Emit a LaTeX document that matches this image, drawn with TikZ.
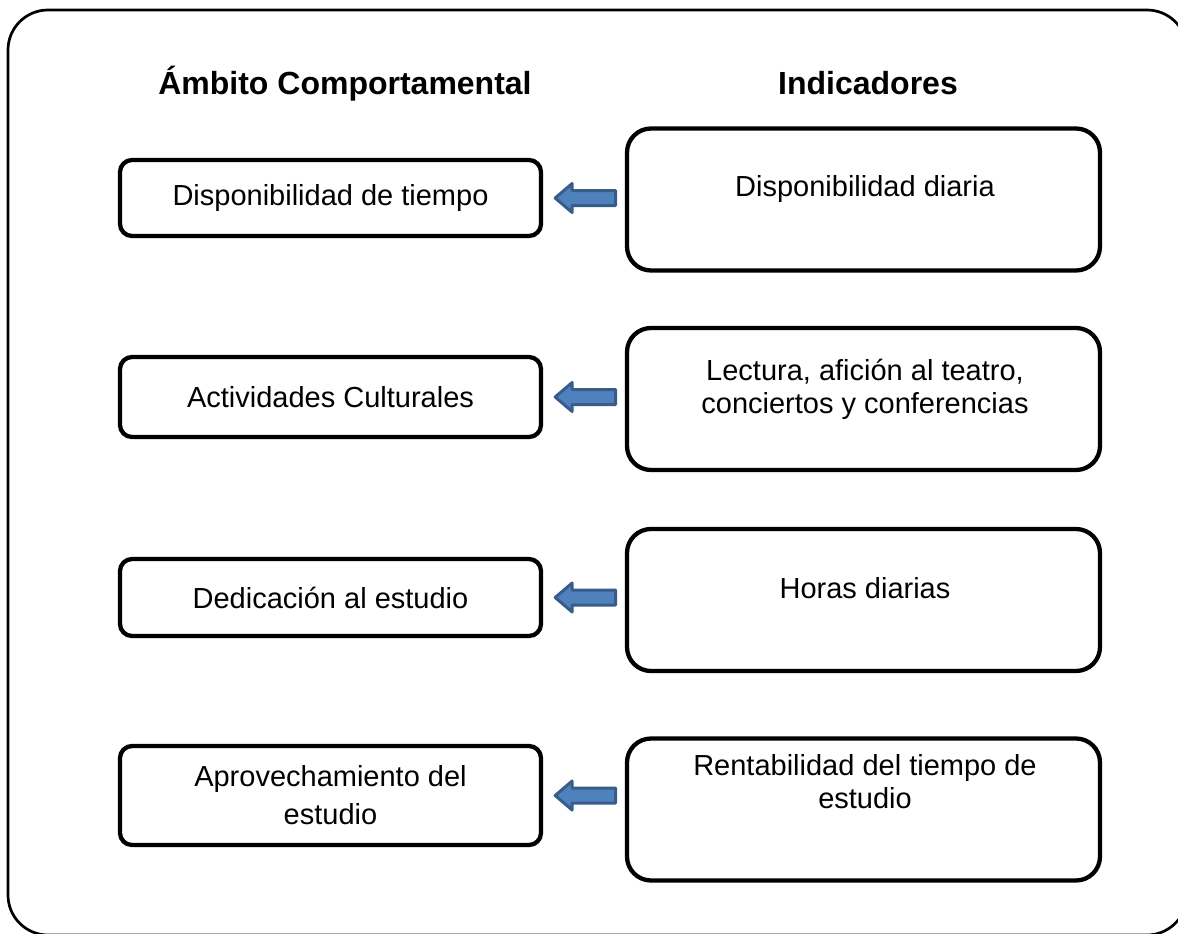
\documentclass[tikz,border=0pt]{standalone}
\usepackage{fontspec}
\setmainfont{Liberation Sans}
\usetikzlibrary{positioning}
\definecolor{flechafill}{HTML}{4F81BD}
\definecolor{flechaborde}{HTML}{385D8A}

\begin{document}
\begin{tikzpicture}[x=1pt,y=-1pt,
  ambito/.style={draw,line width=4.3pt,rounded corners=12pt,minimum width=421pt,
    inner sep=0pt,align=center,font=\fontsize{29}{33}\selectfont},
  indicador/.style={draw,line width=4.3pt,rounded corners=24pt,minimum width=473pt,
    minimum height=142pt,inner sep=0pt},
  texto/.style={align=center,font=\fontsize{29}{33}\selectfont},
  titulo/.style={font=\bfseries\fontsize{32}{38}\selectfont},
  flecha/.style={fill=flechafill,draw=flechaborde,line width=3pt,line join=round}]
\useasboundingbox (0,0) rectangle (1178,934);
\clip (0,0) rectangle (1178,934);
% marco
\draw [line width=2.7pt,rounded corners=40pt] (8,10) rectangle (1187,935);
% titulos
\node[titulo,anchor=base] (tamb) at (345,94) {Ámbito Comportamental};
\node[titulo,anchor=base] (tind) at (868,94) {Indicadores};
% ambitos
\node[ambito,minimum height=76pt] (disp) at (330.5,198) {Disponibilidad de tiempo};
\node[ambito,minimum height=80pt] (cult) at (330.5,397) {Actividades Culturales};
\node[ambito,minimum height=77pt] (dedi) at (330.5,597.5) {Dedicación al estudio};
\node[ambito,minimum height=99pt] (apro) at (330.5,795.5) {Aprovechamiento del\\[5pt]estudio};
% indicadores
\node[indicador] (idisp) at (863.5,199.5) {};
\node[indicador] (icult) at (863.5,399) {};
\node[indicador] (idedi) at (863.5,600) {};
\node[indicador] (iapro) at (863.5,809.5) {};
\node[texto] (tdisp) at (865,189) {Disponibilidad diaria};
\node[texto] (tcult) at (865,389) {Lectura, afición al teatro,\\conciertos y conferencias};
\node[texto] (tdedi) at (865,588) {Horas diarias};
\node[texto] (tapro) at (865,781.5) {Rentabilidad del tiempo de\\estudio};
% flechas
\foreach \a in {disp,cult,dedi,apro}
  \draw [flecha] ([xshift=12pt]\a.east) -- ++(17,-14.5) -- ++(0,7) -- ++(43.5,0)
    -- ++(0,15) -- ++(-43.5,0) -- ++(0,7) -- cycle;
\end{tikzpicture}
\end{document}
